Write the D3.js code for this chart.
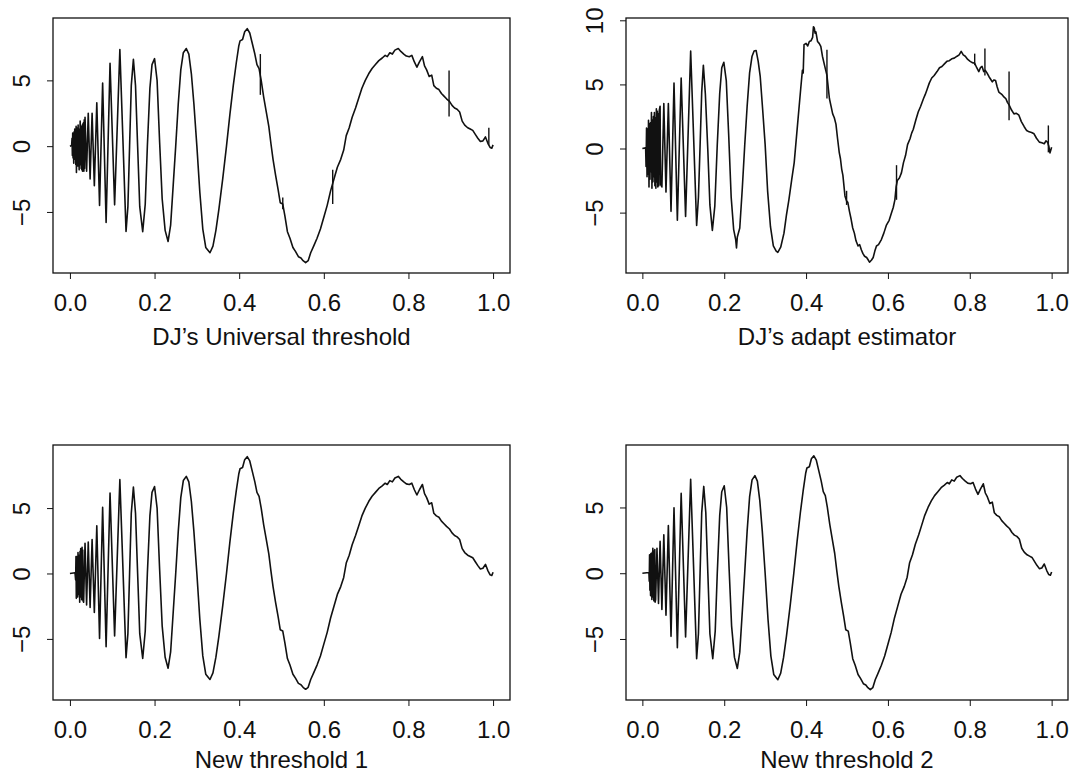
<!DOCTYPE html>
<html><head><meta charset="utf-8">
<script src="https://cdn.jsdelivr.net/npm/d3@7"></script>
<style>
body{margin:0;background:#fff}
svg{display:block}
text{font-family:"Liberation Sans",Arial,Helvetica,sans-serif;fill:#111}
</style>
</head><body>
<svg id="c" width="1083" height="778"></svg>
<script>
// ---------- data ----------
const xTicks = [0, 0.2, 0.4, 0.6, 0.8, 1.0];
const xTickLabels = ["0.0", "0.2", "0.4", "0.6", "0.8", "1.0"];
const titles = ["DJ\u2019s Universal threshold", "DJ\u2019s adapt estimator", "New threshold 1", "New threshold 2"];
const yTicksA = [-5, 0, 5];
const yTicksB = [-5, 0, 5, 10];
const yDomains = [[-9.64, 9.74], [-9.71, 10.18], [-9.67, 9.82], [-9.64, 9.75]];

// high-frequency start of the signal, one per panel
const head1 = [[0,0],[0.004,0.05],[0.0050,0.6],[0.0058,-0.7],[0.0066,1.0],[0.0074,-0.9],[0.0082,0.8],[0.0090,-1.3],[0.0098,1.1],[0.0106,-1.0],[0.0114,1.3],[0.0122,-0.8],[0.0130,1.2],[0.0138,-1.4],[0.0146,1.5],[0.0154,-2.0],[0.0162,1.0],[0.0170,-1.2],[0.0178,1.4],[0.0186,-1.5],[0.0194,1.6],[0.0202,-1.1],[0.0210,1.2],[0.0218,-1.8],[0.0226,1.3],[0.0234,-1.4],[0.0242,1.9],[0.0250,-1.3],[0.0258,1.5],[0.0266,-1.7],[0.0274,1.4],[0.0282,-1.8],[0.0290,1.6],[0.0298,-1.9],[0.0306,1.7],[0.0314,-1.5],[0.0322,1.8],[0.0330,-1.9],[0.0338,2.0],[0.0346,-1.7],[0.0357,2.2],[0.0394,-1.9],[0.0433,2.5],[0.0477,-2.5],[0.0524,2.5],[0.0577,-3.0],[0.0635,3.3],[0.070,-4.5],[0.0773,4.8],[0.0855,-5.8],[0.0948,6.3],[0.1056,-4.46],[0.118,7.35],[0.1326,-6.48]];
const head2 = [[0,0],[0.008,0.05],[0.0090,-1.4],[0.0102,1.6],[0.0114,-2.2],[0.0126,1.5],[0.0138,-2.0],[0.0150,2.2],[0.0162,-3.0],[0.0174,1.9],[0.0186,-2.4],[0.0198,2.0],[0.0210,-1.8],[0.0222,2.8],[0.0234,-3.1],[0.0246,2.2],[0.0258,-2.6],[0.0270,2.5],[0.0282,-2.2],[0.0294,2.8],[0.0306,-2.9],[0.0318,2.4],[0.0330,-3.1],[0.0342,3.1],[0.0354,-2.6],[0.0366,2.9],[0.0378,-3.0],[0.0390,2.7],[0.0402,-2.9],[0.0414,3.0],[0.0433,3.3],[0.0445,-2.8],[0.0477,-3.0],[0.0524,3.5],[0.0577,-3.4],[0.0635,3.5],[0.070,-4.9],[0.0773,5.1],[0.0855,-5.6],[0.0948,5.5],[0.1056,-5.3],[0.118,7.6],[0.1326,-6.0]];
const head3 = [[0,0],[0.012,0.05],[0.0135,-0.5],[0.0143,1.3],[0.0151,-1.9],[0.0159,1.3],[0.0167,-1.5],[0.0175,1.1],[0.0183,-1.8],[0.0191,1.6],[0.0199,-1.2],[0.0207,1.4],[0.0215,-1.6],[0.0223,1.2],[0.0231,-2.2],[0.0239,1.7],[0.0247,-1.4],[0.0255,1.9],[0.0263,-1.8],[0.0271,1.5],[0.0279,-2.0],[0.0287,2.0],[0.0295,-1.6],[0.0303,1.8],[0.0311,-2.1],[0.0324,-2.2],[0.0357,2.3],[0.0394,-2.4],[0.0433,2.4],[0.0477,-2.6],[0.0524,2.6],[0.0577,-2.98],[0.0635,3.65],[0.070,-4.97],[0.0773,5.05],[0.0855,-5.59],[0.0948,6.15],[0.1056,-4.77],[0.118,7.17],[0.1326,-6.43]];
const head4 = [[0,0],[0.016,0.05],[0.0168,-0.6],[0.0176,1.4],[0.0184,-1.3],[0.0192,1.2],[0.0200,-1.7],[0.0208,1.5],[0.0216,-1.2],[0.0224,1.3],[0.0232,-2.0],[0.0240,1.6],[0.0248,-1.5],[0.0256,1.9],[0.0264,-1.8],[0.0272,1.4],[0.0280,-2.1],[0.0288,1.7],[0.0296,-1.6],[0.0304,1.8],[0.0312,-2.2],[0.0324,-2.0],[0.0357,1.9],[0.0394,-2.3],[0.0433,2.42],[0.0477,-2.76],[0.0524,2.93],[0.0577,-3.19],[0.0635,3.62],[0.070,-4.8],[0.0773,4.97],[0.0855,-5.66],[0.0948,6.07],[0.1056,-4.85],[0.118,7.14],[0.1326,-6.5]];

// lower-frequency part (panels 1, 3, 4 share it)
const bodyClean = [[0.137,-4.6],[0.141,0.0],[0.145,4.6],[0.150,6.6],[0.155,4.6],[0.160,0.0],[0.165,-4.6],[0.172,-6.5],[0.178,-4.4],[0.183,0.0],[0.189,4.4],[0.194,6.2],[0.200,6.65],[0.206,5.0],[0.212,0.3],[0.218,-4.0],[0.225,-6.4],[0.232,-7.24],[0.238,-6.0],[0.244,-3.0],[0.250,0.0],[0.256,3.2],[0.262,5.8],[0.268,7.1],[0.275,7.42],[0.281,7.0],[0.287,5.5],[0.293,3.2],[0.300,0.0],[0.307,-3.5],[0.314,-6.3],[0.321,-7.7],[0.331,-8.1],[0.338,-7.6],[0.345,-6.4],[0.352,-4.8],[0.361,-2.5],[0.370,0.0],[0.378,2.4],[0.386,4.6],[0.393,6.3],[0.399,7.6],[0.402,8.0],[0.408,8.1],[0.413,8.7],[0.419,8.93],[0.425,8.6],[0.431,7.8],[0.437,7.0],[0.442,6.2],[0.447,5.9],[0.452,5.0],[0.458,3.7],[0.464,2.6],[0.470,1.5],[0.475,0.2],[0.480,-1.0],[0.486,-2.2],[0.492,-3.3],[0.497,-4.3],[0.503,-4.4],[0.508,-5.3],[0.514,-6.5],[0.520,-7.0],[0.527,-7.7],[0.533,-8.0],[0.540,-8.4],[0.546,-8.5],[0.551,-8.7],[0.557,-8.85],[0.563,-8.7],[0.569,-8.1],[0.576,-7.6],[0.584,-7.0],[0.592,-6.3],[0.600,-5.4],[0.608,-4.5],[0.616,-3.4],[0.624,-2.5],[0.632,-1.6],[0.640,-1.0],[0.647,-0.3],[0.653,0.8],[0.660,1.4],[0.667,2.2],[0.675,2.9],[0.682,3.6],[0.690,4.4],[0.698,5.0],[0.706,5.5],[0.714,5.9],[0.722,6.2],[0.730,6.5],[0.738,6.7],[0.745,6.9],[0.750,6.8],[0.756,7.1],[0.762,7.0],[0.768,7.3],[0.776,7.42],[0.782,7.2],[0.789,7.0],[0.795,6.85],[0.802,6.8],[0.808,6.9],[0.814,6.4],[0.820,6.0],[0.826,6.4],[0.833,6.8],[0.838,6.1],[0.843,5.8],[0.849,5.3],[0.855,5.4],[0.860,4.6],[0.866,4.4],[0.872,4.3],[0.878,4.0],[0.884,3.8],[0.890,3.6],[0.897,3.4],[0.903,3.1],[0.909,2.9],[0.915,2.8],[0.921,2.6],[0.927,1.9],[0.933,1.6],[0.940,1.4],[0.946,1.3],[0.952,1.2],[0.958,0.9],[0.964,0.6],[0.970,0.35],[0.976,0.4],[0.982,0.7],[0.988,0.2],[0.993,-0.1],[0.997,-0.15],[1.000,0.1]];

// lower-frequency part of the adaptive estimate (panel 2)
const bodyNoisy = [[0.137,-3.8],[0.141,0.2],[0.145,4.4],[0.149,6.5],[0.154,4.2],[0.160,-0.2],[0.165,-4.4],[0.171,-6.39],[0.177,-4.5],[0.183,0.3],[0.189,4.3],[0.194,6.3],[0.199,6.73],[0.205,5.3],[0.211,1.0],[0.217,-3.8],[0.223,-6.3],[0.228,-7.1],[0.230,-7.75],[0.232,-6.9],[0.238,-6.2],[0.244,-3.2],[0.250,0.2],[0.256,3.3],[0.262,5.9],[0.268,7.2],[0.273,7.6],[0.278,7.64],[0.283,6.8],[0.288,5.6],[0.294,3.0],[0.300,0.3],[0.306,-3.3],[0.313,-6.1],[0.320,-7.6],[0.327,-8.0],[0.331,-8.1],[0.338,-7.7],[0.346,-6.6],[0.352,-5.2],[0.358,-4.0],[0.365,-2.4],[0.371,-1.1],[0.379,1.8],[0.387,4.7],[0.391,6.1],[0.393,5.9],[0.395,8.1],[0.400,8.2],[0.404,8.0],[0.408,8.35],[0.412,8.4],[0.416,8.67],[0.418,9.5],[0.420,9.4],[0.422,9.0],[0.424,9.1],[0.428,8.35],[0.432,8.2],[0.436,7.96],[0.440,7.2],[0.445,6.5],[0.451,5.7],[0.457,3.9],[0.461,3.3],[0.465,2.7],[0.469,2.4],[0.473,1.9],[0.477,0.76],[0.481,-0.3],[0.484,-0.8],[0.487,-1.6],[0.490,-2.1],[0.495,-3.7],[0.499,-4.1],[0.502,-4.2],[0.506,-4.9],[0.510,-5.5],[0.514,-6.2],[0.518,-6.6],[0.522,-7.2],[0.527,-7.6],[0.531,-7.5],[0.535,-7.9],[0.539,-8.2],[0.543,-8.4],[0.548,-8.5],[0.552,-8.7],[0.555,-8.87],[0.560,-8.7],[0.564,-8.5],[0.568,-8.0],[0.572,-7.6],[0.577,-7.5],[0.584,-7.1],[0.590,-6.6],[0.596,-6.0],[0.603,-5.6],[0.609,-5.0],[0.613,-4.6],[0.617,-4.0],[0.620,-3.0],[0.623,-2.5],[0.628,-2.3],[0.633,-1.9],[0.638,-1.1],[0.643,-0.55],[0.648,0.3],[0.654,0.76],[0.658,1.2],[0.662,1.5],[0.668,2.2],[0.674,2.85],[0.680,3.3],[0.687,3.9],[0.691,4.2],[0.695,4.55],[0.701,5.1],[0.707,5.5],[0.713,5.7],[0.720,6.0],[0.726,6.3],[0.732,6.4],[0.738,6.6],[0.744,6.8],[0.750,6.85],[0.756,7.0],[0.762,7.05],[0.769,7.2],[0.774,7.3],[0.779,7.57],[0.784,7.3],[0.789,7.2],[0.795,6.95],[0.801,6.8],[0.806,6.7],[0.812,6.65],[0.817,6.3],[0.822,6.0],[0.826,6.3],[0.830,6.4],[0.834,6.0],[0.838,6.1],[0.842,5.9],[0.847,5.6],[0.851,5.4],[0.855,5.2],[0.859,5.35],[0.863,5.3],[0.867,4.8],[0.871,4.4],[0.875,4.3],[0.879,4.2],[0.884,4.0],[0.888,3.9],[0.892,3.6],[0.896,3.4],[0.902,3.0],[0.908,2.7],[0.914,2.75],[0.920,2.6],[0.926,2.1],[0.933,1.7],[0.939,1.4],[0.945,1.3],[0.951,1.25],[0.957,1.15],[0.963,0.8],[0.970,0.5],[0.976,0.45],[0.982,0.37],[0.986,0.6],[0.990,0.5],[0.993,0.2],[0.996,-0.34],[1.000,0.1]];

// isolated vertical spikes: [x, top, bottom]
const spikes1 = [[0.450,7.0,3.9],[0.503,-3.9,-4.8],[0.621,-1.8,-4.4],[0.896,5.75,2.25],[0.990,1.4,0.1]];
const spikes2 = [[0.451,7.7,3.9],[0.499,-3.3,-4.4],[0.621,-1.3,-4.0],[0.812,7.4,6.5],[0.837,7.8,5.7],[0.896,6.0,2.2],[0.992,1.8,-0.3]];
const noSpikes = [];

// ---------- layout ----------
const boxes = [[53,18,510,273],[626,18,1068,273],[53,445,510,700],[626,445,1068,700]];
const titleOffsets = [72, 72, 68, 68];
const panels = [
  {title: titles[0], box: boxes[0], pts: head1.concat(bodyClean), spikes: spikes1, yTicks: yTicksA, yDom: yDomains[0], tOff: titleOffsets[0]},
  {title: titles[1], box: boxes[1], pts: head2.concat(bodyNoisy), spikes: spikes2, yTicks: yTicksB, yDom: yDomains[1], tOff: titleOffsets[1]},
  {title: titles[2], box: boxes[2], pts: head3.concat(bodyClean), spikes: noSpikes, yTicks: yTicksA, yDom: yDomains[2], tOff: titleOffsets[2]},
  {title: titles[3], box: boxes[3], pts: head4.concat(bodyClean), spikes: noSpikes, yTicks: yTicksA, yDom: yDomains[3], tOff: titleOffsets[3]}
];

const svg = d3.select("#c");
const FS = 24;

panels.forEach(p => {
  const [l, t, r, b] = p.box;
  const x = d3.scaleLinear().domain([-0.04, 1.04]).range([l, r]);
  const y = d3.scaleLinear().domain(p.yDom).range([b, t]);
  const g = svg.append("g");

  // box
  g.append("rect").attr("x", l).attr("y", t).attr("width", r - l).attr("height", b - t)
    .attr("fill", "none").attr("stroke", "#111").attr("stroke-width", 1.3);

  // x axis
  const xa = g.append("g").attr("transform", `translate(0,${b})`)
    .call(d3.axisBottom(x).tickValues(xTicks).tickSize(6).tickSizeOuter(0)
      .tickFormat((d, i) => xTickLabels[i]));
  xa.select(".domain").remove();
  xa.selectAll("line").attr("stroke", "#111").attr("stroke-width", 1);
  xa.selectAll("text").attr("font-size", FS).attr("dy", null).attr("y", 38).attr("fill", "#111");

  // y axis
  const ya = g.append("g").attr("transform", `translate(${l},0)`)
    .call(d3.axisLeft(y).tickValues(p.yTicks).tickSize(6).tickSizeOuter(0));
  ya.select(".domain").remove();
  ya.selectAll("line").attr("stroke", "#111").attr("stroke-width", 1);
  ya.selectAll("text").attr("font-size", FS).attr("x", null).attr("dy", null)
    .attr("text-anchor", "middle")
    .attr("transform", "translate(-23,0) rotate(-90)")
    .attr("fill", "#111");

  // curve
  const line = d3.line().x(d => x(d[0])).y(d => y(d[1]));
  g.append("path").datum(p.pts).attr("d", line)
    .attr("fill", "none").attr("stroke", "#111").attr("stroke-width", 1.6)
    .attr("stroke-linejoin", "round");

  // spikes
  g.selectAll(".spike").data(p.spikes).enter().append("line")
    .attr("x1", d => x(d[0])).attr("x2", d => x(d[0]))
    .attr("y1", d => y(d[1])).attr("y2", d => y(d[2]))
    .attr("stroke", "#111").attr("stroke-width", 1.4);

  // title
  g.append("text").attr("x", (l + r) / 2).attr("y", b + p.tOff)
    .attr("text-anchor", "middle").attr("font-size", FS).text(p.title);
});
</script>
</body></html>
